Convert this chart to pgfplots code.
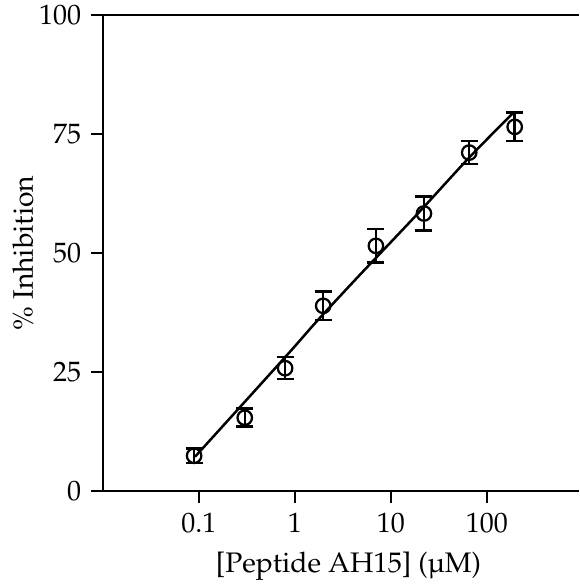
\documentclass[border=0pt]{standalone}
\usepackage[T1]{fontenc}
\usepackage{mathpazo}
\usepackage{textcomp}
\usepackage{pgfplots}
\pgfplotsset{compat=1.18}

\begin{document}
\fontsize{11.3}{13}\selectfont
\begin{tikzpicture}
\begin{axis}[
name=ax,
scale only axis,
width=190.4pt, height=190.4pt,
xmode=log,
xmin=0.01, xmax=912,
ymin=0, ymax=100,
axis x line*=box, axis y line*=left,
xtick pos=bottom,
axis line style={line width=1pt},
tick style={line width=1pt, black},
tick align=outside,
major tick length=4.8pt,
xminorticks=false,
xtick={0.1,1,10,100},
xticklabels={0.1,1,10,100},
ytick={0,25,50,75,100},
/pgf/number format/assume math mode=true,
ticklabel style={font=\fontsize{11.2}{13}\selectfont},
xlabel={[Peptide AH15] (\textmu M)},
ylabel={\% Inhibition},
label style={font=\fontsize{11.3}{13}\selectfont},
xlabel style={xshift=3pt, yshift=0pt},
ylabel style={yshift=-5.5pt},
clip=false,
]

% data with error bars
\addplot[
only marks, black,
mark=o, mark size=2.9pt,
mark options={line width=0.9pt, fill=white},
error bars/.cd, y dir=both, y explicit,
error bar style={line width=1pt},
error mark options={rotate=90, mark size=3.4pt, line width=1pt},
] coordinates {
(0.089,7.4) +- (0,1.5)
(0.30,15.4) +- (0,1.9)
(0.79,25.8) +- (0,2.3)
(1.97,38.9) +- (0,3.0)
(6.98,51.5) +- (0,3.5)
(22.1,58.3) +- (0,3.6)
(65.5,71.1) +- (0,2.4)
(195,76.5) +- (0,3.0)
};

% fitted curve
\addplot[black, line width=1pt, smooth] coordinates {
(0.091,7.2)(0.29,18.4)(0.92,29.6)(1.68,35.6)(4.4,44.7)(18.5,58.0)(66.5,70.2)(190,79.5)
};

\end{axis}
\pgfresetboundingbox
\path ([xshift=-41.2pt,yshift=-37.2pt]ax.south west) rectangle ([yshift=6pt]ax.north east);
\end{tikzpicture}
\end{document}
